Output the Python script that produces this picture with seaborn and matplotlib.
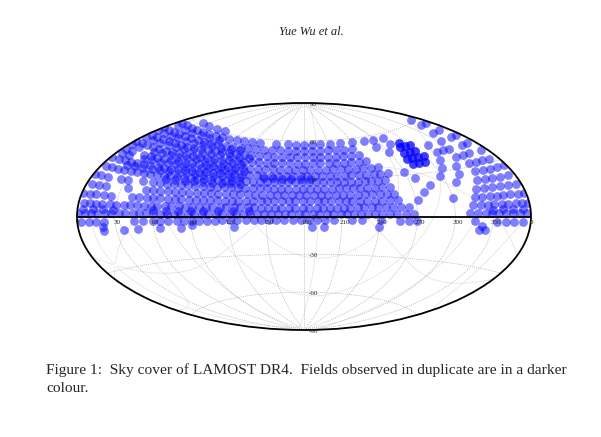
import numpy as np
import pandas as pd
import matplotlib
matplotlib.use("Agg")
import matplotlib.pyplot as plt
import seaborn as sns

# LAMOST DR4 field centres, RA (deg) for each Dec row
ra_dec_m8 = [20, 36, 47, 65, 82, 124, 186, 196, 240, 320, 325]
ra_dec_m3 = [3, 9, 15, 21, 45, 52, 60, 66, 72, 79, 85, 91, 97, 103, 109, 115, 121, 127, 134, 140,
             146, 152, 158, 164, 171, 178, 184, 190, 197, 204, 218, 226, 241, 256, 263, 270,
             316, 333, 340, 347, 354]
ra_dec_2 = [1, 6, 11, 16, 22, 27, 33, 38, 44, 49, 55, 60, 66, 71, 77, 82, 88, 93, 99, 104, 110,
            115, 121, 126, 132, 137, 143, 148, 154, 159, 165, 170, 176, 181, 187, 192, 198, 203,
            209, 214, 220, 225, 231, 236, 242, 248, 254, 261, 267, 312, 318, 324, 329, 335, 340,
            346, 351, 357]
ra_dec_7 = [4, 9, 14, 19, 25, 30, 36, 41, 47, 52, 58, 63, 69, 74, 80, 85, 91, 96, 102, 107, 113,
            118, 124, 129, 135, 140, 146, 151, 157, 162, 168, 173, 179, 184, 190, 195, 201, 206,
            212, 217, 223, 228, 234, 239, 245, 251, 257, 264, 315, 321, 327, 332, 338, 343, 349,
            354, 359]
ra_dec_12 = [1, 7, 12, 18, 24, 41, 47, 53, 58, 64, 70, 76, 81, 87, 93, 99, 104, 110, 116, 122,
             127, 133, 139, 145, 150, 156, 162, 168, 173, 179, 185, 191, 196, 202, 208, 214, 219,
             225, 231, 237, 243, 249, 256, 272, 300, 318, 324, 330, 336, 341, 347, 353, 358]
ra_dec_17 = [4, 10, 16, 35, 50, 56, 62, 68, 74, 80, 86, 92, 98, 104, 110, 116, 122, 128, 134,
             140, 146, 152, 158, 164, 170, 176, 182, 188, 194, 200, 206, 212, 218, 224, 230, 236,
             242, 248, 254, 278, 322, 328, 335, 342, 349, 356]
ra_dec_22 = [1, 7, 13, 25, 31, 44, 53, 59, 65, 71, 77, 83, 89, 95, 101, 107, 113, 119, 125, 131,
             137, 143, 149, 155, 161, 167, 173, 179, 185, 191, 197, 203, 209, 215, 221, 227, 233,
             239, 245, 252, 286, 308, 326, 333, 340, 347, 354]
ra_dec_27 = [4, 10, 16, 22, 28, 34, 40, 46, 52, 58, 64, 70, 76, 82, 88, 94, 100, 106, 112, 118,
             124, 130, 136, 142, 148, 154, 160, 166, 172, 178, 184, 190, 196, 202, 208, 214, 220,
             226, 232, 238, 244, 250, 276, 298, 315, 330, 337, 344, 351, 358]
ra_dec_32 = [1, 8, 14, 21, 27, 34, 40, 47, 53, 60, 66, 73, 79, 86, 92, 99, 105, 112, 118, 125,
             131, 138, 144, 151, 157, 164, 170, 177, 183, 190, 196, 203, 209, 216, 222, 229, 235,
             242, 248, 255, 270, 305, 318, 331, 338, 345, 352]
ra_dec_37 = [4, 11, 25, 32, 39, 46, 53, 60, 67, 74, 81, 88, 95, 102, 109, 116, 123, 130, 137,
             144, 151, 158, 165, 172, 179, 186, 193, 200, 207, 214, 221, 228, 235, 242, 249, 310,
             327, 334, 341, 355]
ra_dec_42 = [1, 9, 16, 24, 31, 39, 46, 54, 61, 69, 76, 84, 91, 99, 106, 114, 121, 129, 136, 144,
             151, 159, 166, 174, 181, 189, 196, 204, 211, 219, 226, 234, 241, 315, 322, 329, 345,
             352]
ra_dec_47 = [5, 13, 21, 29, 37, 45, 53, 61, 69, 77, 85, 93, 101, 109, 117, 125, 133, 141, 149,
             157, 165, 173, 181, 189, 197, 205, 213, 221, 229, 237, 270, 316, 333, 348, 356]
ra_dec_52 = [0, 9, 18, 27, 36, 45, 54, 63, 72, 81, 90, 99, 108, 117, 126, 135, 144, 153, 162,
             171, 180, 189, 198, 207, 216, 225, 234, 262, 279, 340, 351]
ra_dec_57 = [5, 15, 25, 35, 45, 55, 65, 75, 85, 95, 105, 115, 125, 145, 160, 170, 180, 190, 200,
             212, 225, 240, 255, 268, 282, 345, 355]
ra_dec_61 = [25, 38, 52, 66, 350]

# fields observed twice
dup_dec_m6 = [20, 91, 322]
dup_dec_4 = [4, 12, 20, 28, 60, 70, 80, 90, 100, 112, 124, 136, 330, 338, 346, 354]
dup_dec_25 = [62, 70, 78, 86, 94, 102, 110, 118, 126]
dup_dec_30 = [20, 28, 36, 44, 52, 60, 68, 76, 84, 92, 100, 108, 116, 124, 145, 153, 161, 169,
              177, 185]
dup_dec_35 = [5, 13, 29, 37, 45, 53, 61, 69, 77, 85, 93, 101, 109, 117, 125]
dup_dec_40 = [3, 12, 30, 39, 48, 57, 66, 75, 84, 93, 102, 111, 120]
dup_dec_45 = [4, 14, 24, 34, 44, 54, 64, 74, 84, 94, 104, 114, 124]
dup_dec_50 = [0, 11, 22, 33, 44, 55, 66, 77, 88, 99, 110]
dup_dec_55 = [10, 23, 36, 49, 62, 75]

# Kepler field plates
kepler_ra = [281, 287, 293, 299, 284, 290, 296, 286, 292, 298, 283, 289, 295, 291]
kepler_dec = [41, 41, 41, 41, 45, 45, 45, 49, 49, 49, 37, 37, 37, 52]

ra_ticks = [30, 60, 90, 120, 150, 180, 210, 240, 270, 300, 330]
dec_ticks = [90, 60, 30, 0, -30, -60, -90]


def to_frame(rows):
    recs = [(ra, dec) for dec, ras in rows for ra in ras]
    df = pd.DataFrame(recs, columns=["ra", "dec"])
    df["lon"] = np.radians(df["ra"] - 180)
    df["lat"] = np.radians(df["dec"])
    return df


main = to_frame([(-8, ra_dec_m8), (-3, ra_dec_m3), (2, ra_dec_2), (7, ra_dec_7),
                 (12, ra_dec_12), (17, ra_dec_17), (22, ra_dec_22), (27, ra_dec_27),
                 (32, ra_dec_32), (37, ra_dec_37), (42, ra_dec_42), (47, ra_dec_47),
                 (52, ra_dec_52), (57, ra_dec_57), (61, ra_dec_61)])
dups = to_frame([(-6, dup_dec_m6), (4, dup_dec_4), (25, dup_dec_25), (30, dup_dec_30),
                 (35, dup_dec_35), (40, dup_dec_40), (45, dup_dec_45), (50, dup_dec_50),
                 (55, dup_dec_55)])
kep = pd.DataFrame({"ra": kepler_ra, "dec": kepler_dec})
kep["lon"] = np.radians(kep["ra"] - 180)
kep["lat"] = np.radians(kep["dec"])

sns.set_theme(style="white")
plt.rcParams["font.family"] = ["Liberation Serif", "DejaVu Serif"]

fig = plt.figure(figsize=(6.01, 4.37), dpi=100)
ax = fig.add_axes([77 / 601, 107 / 437, 454 / 601, 227 / 437], projection="aitoff")

# equatorial grid (dashed)
ax.set_longitude_grid(30)
ax.set_latitude_grid(30)
ax.set_longitude_grid_ends(90)
ax.grid(True, color="#b0b0b0", linestyle=(0, (1.5, 1.5)), linewidth=0.5)
ax.set_axisbelow(True)
ax.tick_params(labelbottom=False, labelleft=False, labeltop=False, labelright=False)

# faint galactic grid
R = np.array([[-0.0548755604, -0.8734370902, -0.4838350155],
              [0.4941094279, -0.4448296300, 0.7469822445],
              [-0.8676661490, -0.1980763734, 0.4559837762]])


def gal_line(l, b):
    l, b = np.radians(l), np.radians(b)
    g = np.vstack([np.cos(b) * np.cos(l), np.cos(b) * np.sin(l), np.sin(b)])
    e = R.T @ g
    ra = np.degrees(np.arctan2(e[1], e[0])) % 360
    lon = np.radians(ra - 180)
    lat = np.arcsin(np.clip(e[2], -1, 1))
    cut = np.where(np.abs(np.diff(lon)) > np.pi)[0] + 1
    return np.insert(lon, cut, np.nan), np.insert(lat, cut, np.nan)


for b in [-60, -30, 0, 30, 60]:
    x, y = gal_line(np.linspace(0, 360, 400), np.full(400, b))
    ax.plot(x, y, color="#e6e6e6", lw=0.6, zorder=0.5)
for l in range(0, 360, 60):
    x, y = gal_line(np.full(300, l), np.linspace(-89, 89, 300))
    ax.plot(x, y, color="#e6e6e6", lw=0.6, zorder=0.5)

kw = dict(x="lon", y="lat", ax=ax, s=40, color="#0000ff", alpha=0.5, linewidth=0,
          legend=False, zorder=2)
sns.scatterplot(data=main, **kw)
sns.scatterplot(data=dups, **kw)
sns.scatterplot(data=kep, **kw)
sns.scatterplot(data=kep, **kw)
ax.set_xlabel("")
ax.set_ylabel("")

# equator and frame
ax.plot(np.radians([-180, 180]), [0, 0], color="black", lw=1.3, zorder=4)
ax.spines["geo"].set_linewidth(1.3)
ax.spines["geo"].set_edgecolor("black")

for ra in ra_ticks:
    ax.annotate(str(ra), (np.radians(ra - 180), 0), xytext=(2, -4.5),
                textcoords="offset points", ha="center", va="center", fontsize=5, zorder=5)
ax.annotate("0", (-np.pi, 0), xytext=(0, -4.5), textcoords="offset points",
            ha="center", va="center", fontsize=5, zorder=5)
ax.annotate("0", (np.pi, 0), xytext=(0, -4.5), textcoords="offset points",
            ha="center", va="center", fontsize=5, zorder=5)
for d in dec_ticks:
    ax.annotate(str(d), (0, np.radians(d)), xytext=(6.5, -1),
                textcoords="offset points", ha="center", va="center", fontsize=5, zorder=5)

fig.text(311 / 601, 1 - 32 / 437, "Yue Wu et al.", ha="center", va="center",
         fontsize=9, style="italic")
fig.text(46 / 601, 1 - 370 / 437,
         "Figure 1:  Sky cover of LAMOST DR4.  Fields observed in duplicate are in a darker",
         ha="left", va="center", fontsize=11.1)
fig.text(46 / 601, 1 - 388 / 437, "colour.", ha="left", va="center", fontsize=11.1)

fig.savefig("out.png", dpi=100)
